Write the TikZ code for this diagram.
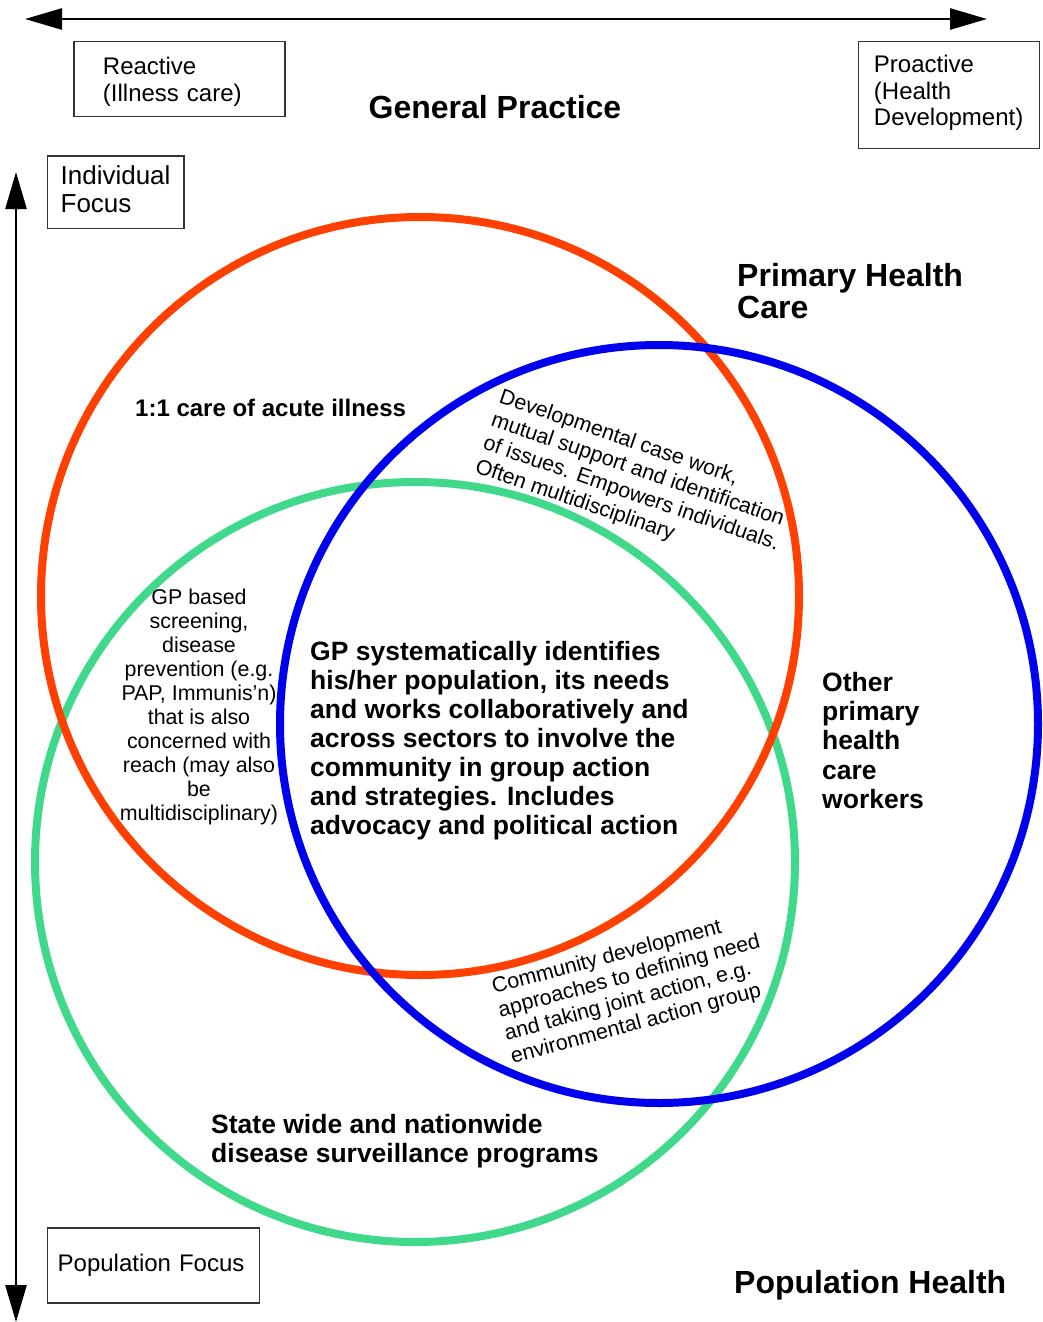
\documentclass[tikz,border=0pt]{standalone}
\usepackage{fontspec}
\setmainfont{Liberation Sans}
\usetikzlibrary{arrows.meta}
\definecolor{gpred}{HTML}{FF4000}
\definecolor{phcblue}{HTML}{0000EE}
\definecolor{popgreen}{HTML}{40D98C}
\begin{document}
\begin{tikzpicture}[x=1pt,y=-1pt,
  ring/.style={line width=8pt},
  axis/.style={line width=2.7pt,{Triangle[length=37pt,width=21pt]}-{Triangle[length=37pt,width=21pt]}},
  labelbox/.style={draw=black!80,line width=1.3pt,align=left,anchor=north west,inner ysep=0pt},
  title/.style={font=\bfseries\fontsize{32}{31.6}\selectfont,inner sep=0pt},
  bigtxt/.style={font=\bfseries\fontsize{26.5}{29.2}\selectfont,inner sep=0pt},
  smalltxt/.style={font=\fontsize{21.4}{24}\selectfont,inner sep=0pt}
]
\useasboundingbox (0,0) rectangle (1042,1322);

% axes
\coordinate (hl) at (25,19);
\coordinate (hr) at (987,19);
\coordinate (vt) at (16,172);
\coordinate (vb) at (16,1322);
\draw[axis] (hl) -- (hr);
\draw[axis] (vt) -- (vb);

% circles
\draw[ring,popgreen] (415,862) circle[radius=380];
\draw[ring,gpred] (420,596) circle[radius=379];
\draw[ring,phcblue] (659,724) circle[radius=379];

% boxes
\node[labelbox,font=\fontsize{24}{26.7}\selectfont,inner xsep=29pt,text width=153pt,minimum height=74.7pt,text depth=25.8pt] (reactive) at (73.3,41) {Reactive\\(Illness care)};
\node[labelbox,font=\fontsize{24}{26.3}\selectfont,inner xsep=15.6pt,text width=150pt,minimum height=106.7pt,text depth=61.7pt] (proactive) at (857.7,41) {Proactive\\(Health\\Development)};
\node[labelbox,font=\fontsize{26}{28.3}\selectfont,inner xsep=13.3pt,text width=110pt,minimum height=72.4pt,text depth=34.3pt] (individual) at (46.7,155.3) {Individual\\Focus};
\node[labelbox,font=\fontsize{24}{26.7}\selectfont,inner xsep=10.3pt,text width=191.4pt,minimum height=75pt] (popfocus) at (46.7,1227.3) {Population Focus};

% titles
\node[title,anchor=base] (gp) at (495,118) {General Practice};
\node[title,anchor=base west,align=left] (phc) at (737,318.3) {Primary Health\\Care};
\node[title,anchor=base west] (poph) at (734,1293) {Population Health};

% region texts
\node[font=\bfseries\fontsize{24}{27}\selectfont,inner sep=0pt,anchor=base west] (acute) at (135,416) {1:1 care of acute illness};
\node[bigtxt,anchor=base west,align=left,font=\bfseries\fontsize{26.5}{28.9}\selectfont] (core) at (310,834) {GP systematically identifies\\his/her population, its needs\\and works collaboratively and\\across sectors to involve the\\community in group action\\and strategies. Includes\\advocacy and political action};
\node[bigtxt,anchor=base west,align=left] (other) at (822,808.3) {Other\\primary\\health\\care\\workers};
\node[bigtxt,anchor=base west,align=left,font=\bfseries\fontsize{26.5}{29.4}\selectfont] (state) at (211,1162.7) {State wide and nationwide\\disease surveillance programs};
\node[smalltxt,anchor=base,align=center] (screen) at (199,820) {GP based\\screening,\\disease\\prevention (e.g.\\PAP, Immunis’n)\\that is also\\concerned with\\reach (may also\\be\\multidisciplinary)};
\node[smalltxt,anchor=base west,align=left,rotate=-19,font=\fontsize{21.4}{24.6}\selectfont] (devel) at (474,472) {Developmental case work,\\mutual support and identification\\of issues. Empowers individuals.\\Often multidisciplinary};
\node[smalltxt,anchor=base west,align=left,rotate=15] (commdev) at (512.6,1063.5) {Community development\\approaches to defining need\\and taking joint action, e.g.\\environmental action group};
\end{tikzpicture}
\end{document}
